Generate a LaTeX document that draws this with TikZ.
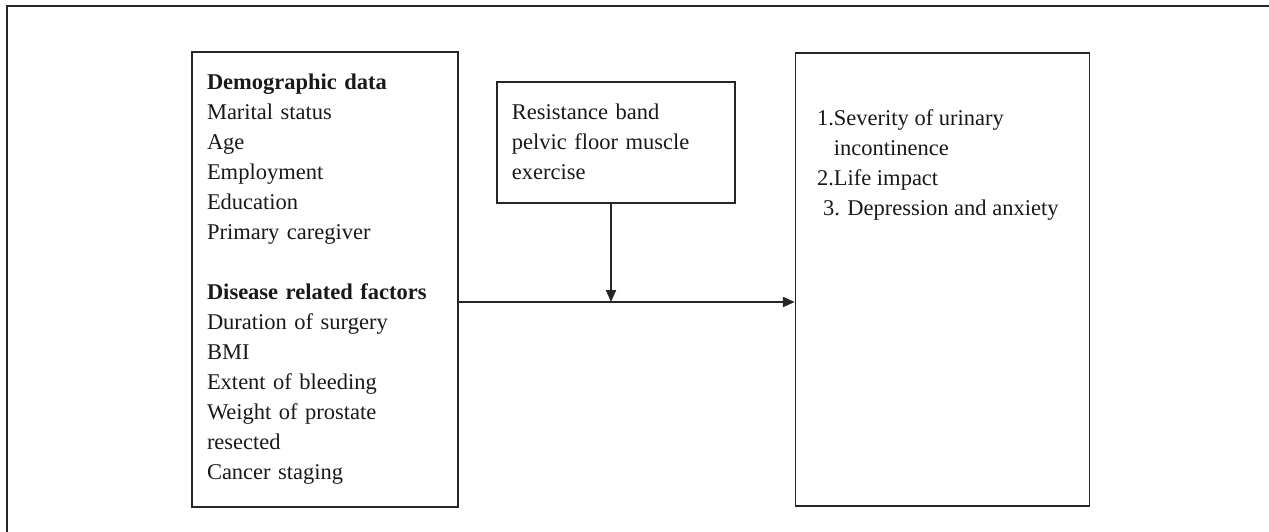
\documentclass[tikz,border=0pt]{standalone}
\usepackage{fontspec}
\setmainfont{Liberation Serif}
\usetikzlibrary{positioning,arrows.meta}
\tikzset{
	box/.style={draw=black!85, line width=1.6pt, rectangle, inner sep=0pt},
	boxtext/.style={font=\fontsize{22.5}{30}\selectfont, text=black!90, align=left},
	link/.style={line width=2pt, draw=black!85, -{Triangle[length=12pt,width=10pt]}}
}
\begin{document}
\begin{tikzpicture}[x=1pt,y=-1pt]
		\useasboundingbox (0,0) rectangle (1269,532);
		% frame
		\draw[line width=2pt, black!85] (7,532) -- (7,6) -- (1269,6);
		
		% nodes
		\node[box, boxtext, text width=236pt, inner xsep=15pt, minimum height=455pt] (factors) at (325,279.5)
		{\textbf{Demographic data}\\
			Marital status\\
			Age\\
			Employment\\
			Education\\
			Primary caregiver\\[30pt]
			\textbf{Disease related factors}\\
			Duration of surgery\\
			BMI\\
			Extent of bleeding\\
			Weight of prostate\\
			resected\\
			Cancer staging};
		
		\node[box, boxtext, text width=208pt, inner xsep=15pt, minimum height=121pt, anchor=north west] (exercise) at (496,81)
		{Resistance band\\
			pelvic floor muscle\\
			exercise};
		
		\node[box, minimum width=294pt, minimum height=453pt, right=336pt of factors] (outcomes) {};
		\node[boxtext, inner sep=0pt, anchor=north west] (outcomelist) at ([xshift=22pt,yshift=-57pt]outcomes.north west)
		{1.Severity of urinary\\
			\phantom{1.}incontinence\\
			2.Life impact\\
			\hspace*{6pt}3. Depression and anxiety};
		
		% connectors
		\coordinate (junction) at (611,302);
		\draw[link] (factors.east |- junction) -- (outcomes.west |- junction);
		\draw[link] (exercise.south -| junction) -- (junction);
\end{tikzpicture}
\end{document}
